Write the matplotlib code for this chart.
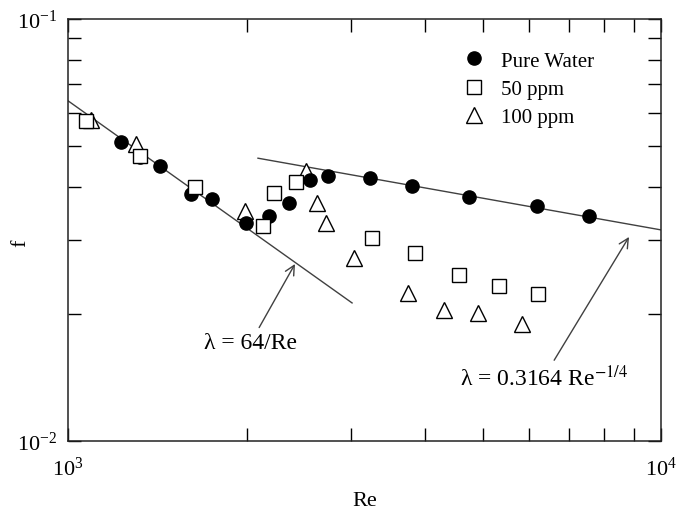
import matplotlib
matplotlib.use("Agg")
import matplotlib.pyplot as plt

## Friction factor vs Reynolds number : pure water and polymer solutions

water_re    = [1229, 1322, 1429, 1612, 1749, 1996, 2182, 2359, 2559, 2745, 3230, 3803, 4746, 6178, 7558]
water_f     = [0.0511, 0.0471, 0.0448, 0.0385, 0.0375, 0.0329, 0.0341, 0.0366, 0.0415, 0.0425,
               0.0420, 0.0402, 0.0379, 0.0360, 0.0341]

ppm50_re    = [1072, 1322, 1637, 2133, 2226, 2424, 3255, 3848, 4564, 5332, 6202]
ppm50_f     = [0.0573, 0.0473, 0.0400, 0.0323, 0.0387, 0.0411, 0.0303, 0.0279, 0.0247, 0.0233, 0.0223]

ppm100_re   = [1095, 1302, 1988, 2519, 2630, 2723, 3036, 3745, 4306, 4915, 5829]
ppm100_f    = [0.0576, 0.0506, 0.0351, 0.0436, 0.0366, 0.0329, 0.0271, 0.0224, 0.0204, 0.0201, 0.0189]

# end points of the two reference correlations
laminar_re  = [1000, 3013]
laminar_f   = [64.0 / 1000, 64.0 / 3013]
blasius_re  = [2091, 10000]
blasius_f   = [0.3164 * 2091 ** -0.25, 0.3164 * 10000 ** -0.25]

plt.rcParams['font.family']      = ['Liberation Serif', 'DejaVu Serif']
plt.rcParams['mathtext.fontset'] = 'stix'

fig = plt.figure( figsize = (6.89, 5.10), dpi = 100 )
ax  = fig.add_axes( [0.0987, 0.1333, 0.8607, 0.8275] )

lineColor = '#404040'
ax.plot( laminar_re, laminar_f, color = lineColor, linewidth = 1.0, zorder = 1 )
ax.plot( blasius_re, blasius_f, color = lineColor, linewidth = 1.0, zorder = 1 )

ax.plot( water_re,  water_f,  'o', color = 'black', markersize = 9.5, label = 'Pure Water', zorder = 3 )
ax.plot( ppm50_re,  ppm50_f,  's', markerfacecolor = 'white', markeredgecolor = 'black',
         markeredgewidth = 1.0, markersize = 10, label = '50 ppm', zorder = 4 )
ax.plot( ppm100_re, ppm100_f, '^', markerfacecolor = 'white', markeredgecolor = 'black',
         markeredgewidth = 1.0, markersize = 12, label = '100 ppm', zorder = 2 )

ax.set_xscale( 'log' )
ax.set_yscale( 'log' )
ax.set_xlim( 1e3, 1e4 )
ax.set_ylim( 1e-2, 1e-1 )

ax.tick_params( which = 'both', direction = 'in', top = True, right = True, width = 1.0, colors = 'black' )
ax.tick_params( which = 'minor', length = 9.5 )
ax.tick_params( which = 'major', length = 9.5, labelsize = 16 )
ax.tick_params( axis = 'x', which = 'major', pad = 11 )
ax.tick_params( axis = 'y', which = 'major', pad = 8 )
ax.tick_params( which = 'minor', labelleft = False, labelbottom = False )

for spine in ax.spines.values():
    spine.set_linewidth( 1.1 )
    spine.set_color( '#222222' )

ax.set_xlabel( 'Re', fontsize = 16, labelpad = 8 )
ax.set_ylabel( 'f',  fontsize = 16 )
ax.yaxis.set_label_coords( -0.064, 0.47 )

ax.annotate( 'λ = 64/Re', xy = (2414, 0.02627), xytext = (2035, 0.01716),
             fontsize = 17, ha = 'center', va = 'center',
             arrowprops = dict( arrowstyle = '->', color = lineColor, linewidth = 1.0,
                                shrinkA = 1, shrinkB = 0 ) )

ax.annotate( r'λ = 0.3164 Re$^{-1/4}$', xy = (8831, 0.03045), xytext = (6348, 0.01418),
             fontsize = 17, ha = 'center', va = 'center',
             arrowprops = dict( arrowstyle = '->', color = lineColor, linewidth = 1.0,
                                shrinkA = 1, shrinkB = 0 ) )

ax.legend( loc = 'upper left', bbox_to_anchor = (0.636, 0.944), frameon = False,
           fontsize = 15, handlelength = 2.0, handletextpad = 0.3, labelspacing = 0.42,
           borderpad = 0.4, borderaxespad = 0.0 )

fig.savefig( 'out.png', dpi = 100 )
plt.close()
